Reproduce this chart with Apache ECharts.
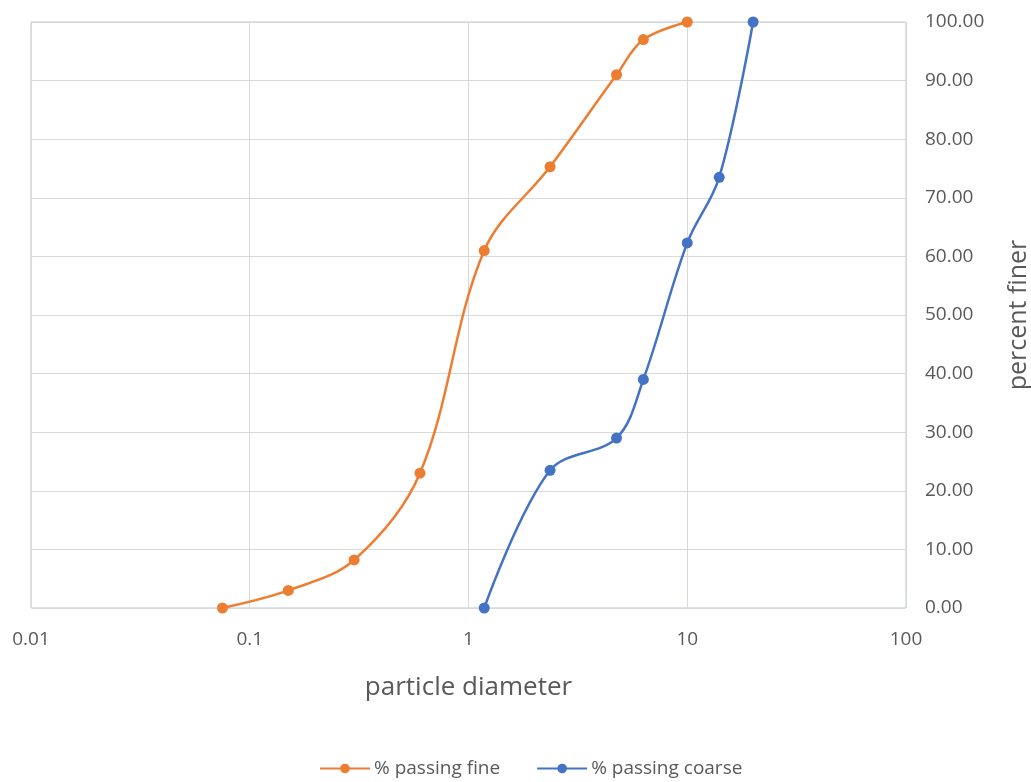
<!DOCTYPE html>
<html>
<head>
<meta charset="utf-8">
<script src="https://cdn.jsdelivr.net/npm/echarts@6/dist/echarts.min.js"></script>
<style>html,body{margin:0;padding:0;background:#fff}#c{width:1031px;height:782px}</style>
</head>
<body>
<div id="c"></div>
<script>
const fineDiameter = [0.075, 0.15, 0.3, 0.6, 1.18, 2.36, 4.75, 6.3, 10];
const finePassing = [0, 3, 8.2, 23, 61, 75.3, 91, 97, 100];
const coarseDiameter = [1.18, 2.36, 4.75, 6.3, 10, 14, 20];
const coarsePassing = [0, 23.5, 29, 39, 62.3, 73.5, 100];

const font = 'Open Sans';
const chart = echarts.init(document.getElementById('c'), null, {renderer: 'canvas'});
chart.setOption({
  backgroundColor: '#fff',
  animation: false,
  textStyle: {fontFamily: font},
  grid: {left: 31, right: 125, top: 22, bottom: 174, show: true, borderColor: '#b9c5d8', borderWidth: 1,
         containLabel: false, outerBoundsMode: 'none'},
  legend: {
    top: 754, left: 314, itemWidth: 50, itemHeight: 12, itemGap: 36,
    textStyle: {fontSize: 19, color: '#595959', fontFamily: font, padding: [0, 0, 0, -1]},
    data: ['% passing fine', '% passing coarse']
  },
  xAxis: {
    type: 'log', logBase: 10, min: 0.01, max: 100,
    name: 'particle diameter', nameLocation: 'middle', nameGap: 67,
    nameTextStyle: {fontSize: 26, color: '#595959'},
    axisLine: {show: false}, axisTick: {show: false},
    axisLabel: {fontSize: 19, color: '#595959', margin: 22, formatter: v => String(v)},
    splitLine: {show: true, lineStyle: {color: '#d9d9d9', width: 1}},
    minorSplitLine: {show: false}
  },
  yAxis: {
    type: 'value', position: 'right', min: 0, max: 100, interval: 10,
    name: 'percent finer', nameLocation: 'middle', nameGap: 100, nameRotate: 90,
    nameTextStyle: {fontSize: 25, color: '#595959'},
    axisLine: {show: false}, axisTick: {show: false},
    axisLabel: {fontSize: 19, color: '#595959', margin: 19, formatter: v => v.toFixed(2)},
    splitLine: {show: true, lineStyle: {color: '#d9d9d9', width: 1}}
  },
  series: [
    {
      name: '% passing fine', type: 'line', smooth: 0.35,
      data: fineDiameter.map((d, i) => [d, finePassing[i]]),
      symbol: 'circle', symbolSize: 11,
      lineStyle: {color: '#ED7D31', width: 2.5},
      itemStyle: {color: '#ED7D31'}
    },
    {
      name: '% passing coarse', type: 'line', smooth: 0.35,
      data: coarseDiameter.map((d, i) => [d, coarsePassing[i]]),
      symbol: 'circle', symbolSize: 11,
      lineStyle: {color: '#4472C4', width: 2.5},
      itemStyle: {color: '#4472C4'}
    }
  ]
});
</script>
</body>
</html>
